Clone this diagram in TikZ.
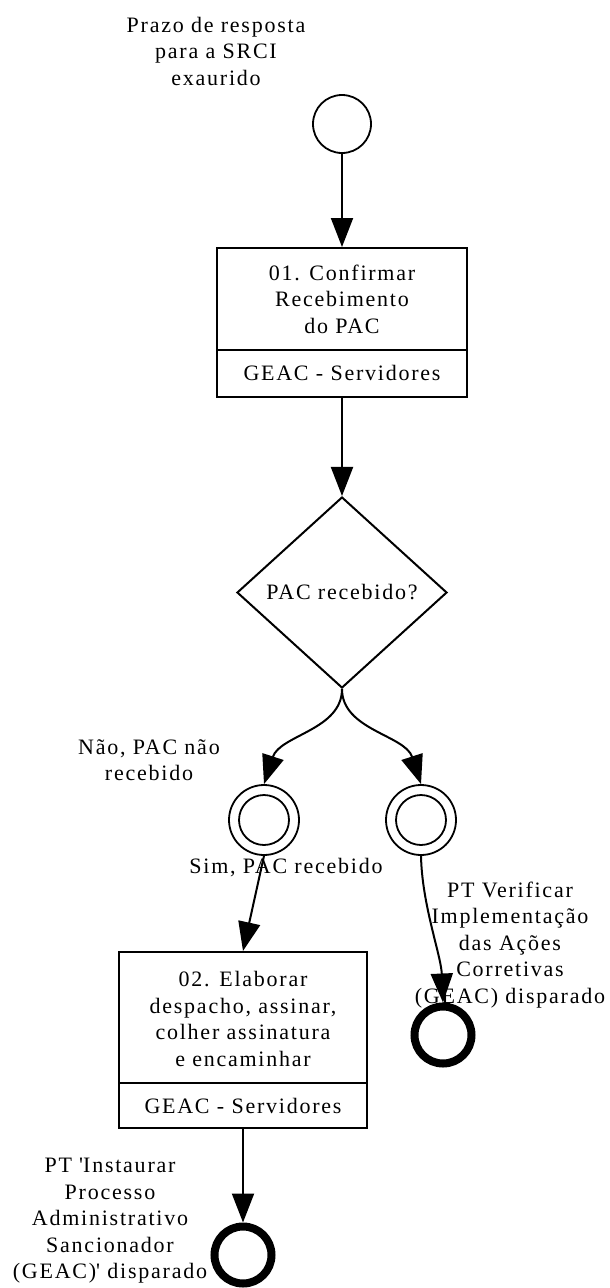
\documentclass[tikz,border=0pt]{standalone}
\usepackage{fontspec}
\setmainfont{Liberation Serif}[LetterSpace=8]
\usetikzlibrary{arrows.meta,shapes.geometric}
\begin{document}
\begin{tikzpicture}[x=1pt,y=-1pt,
  txt/.style={align=center,inner sep=0pt,font=\fontsize{22}{26.5}\selectfont},
  startev/.style={circle,draw,line width=1.8pt,minimum size=58pt,inner sep=0pt},
  interev/.style={circle,draw,line width=1.8pt,minimum size=70pt,inner sep=0pt},
  endev/.style={circle,draw,line width=8pt,minimum size=57pt,inner sep=0pt},
  taskbox/.style={draw,line width=2pt,inner sep=0pt},
  gateway/.style={diamond,draw,line width=2pt,minimum width=210pt,minimum height=191pt,inner sep=0pt},
  flow/.style={line width=2pt,-{Triangle[length=29pt,width=22pt]}},
  thinline/.style={line width=1.8pt},
  boxline/.style={line width=2pt},
]
\useasboundingbox (0,0) rectangle (610,1288);

% events and activities
\node[startev] (start) at (342,124) {};
\node[taskbox,minimum width=250pt,minimum height=149pt] (task1) at (342,322.5) {};
\draw[boxline] ([yshift=48pt]task1.south west) -- ([yshift=48pt]task1.south east);
\node[gateway] (gw) at (342,592.5) {};
\node[interev] (int1) at (264,820) {};
\draw[thinline] (int1.center) circle[radius=25pt];
\node[interev] (int2) at (421,820) {};
\draw[thinline] (int2.center) circle[radius=25pt];
\node[taskbox,minimum width=248pt,minimum height=176pt] (task2) at (243,1040) {};
\draw[boxline] ([yshift=46pt]task2.south west) -- ([yshift=46pt]task2.south east);
\node[endev] (end1) at (243,1255) {};
\node[endev] (end2) at (443,1035) {};

% texts
\node[txt] (startlbl) at (216,51) {Prazo de resposta\\para a SRCI\\exaurido};
\node[txt] (t1title) at (342,299) {01. Confirmar\\Recebimento\\do PAC};
\node[txt] (t1role) at (342,373) {GEAC - Servidores};
\node[txt] (gwlbl) at (342,592) {PAC recebido?};
\node[txt] (naolbl) at (149,760) {Não, PAC não\\recebido};
\node[txt] (simlbl) at (286,868) {Sim, PAC recebido};
\node[txt] (end2lbl) at (510,945) {PT Verificar\\Implementação\\das Ações\\Corretivas\\(GEAC) disparado};
\node[txt] (t2title) at (243,1019) {02. Elaborar\\despacho, assinar,\\colher assinatura\\e encaminhar};
\node[txt] (t2role) at (243,1106) {GEAC - Servidores};
\node[txt] (end1lbl) at (110,1221) {PT \textquotesingle Instaurar\\Processo\\Administrativo\\Sancionador\\(GEAC)\textquotesingle{} disparado};

% connectors
\draw[flow] (start) -- (task1);
\draw[flow] (task1) -- (gw);
\draw[flow] (gw.south) .. controls (342,730) and (280,735) .. (int1.north);
\draw[flow] (gw.south) .. controls (342,730) and (405,735) .. (int2.north);
\draw[flow] (int1.south) -- (task2.north);
\draw[flow] (int2.south) .. controls (422,905) and (441,955) .. (end2.north);
\draw[flow] (task2.south) -- (end1.north);
\end{tikzpicture}
\end{document}
